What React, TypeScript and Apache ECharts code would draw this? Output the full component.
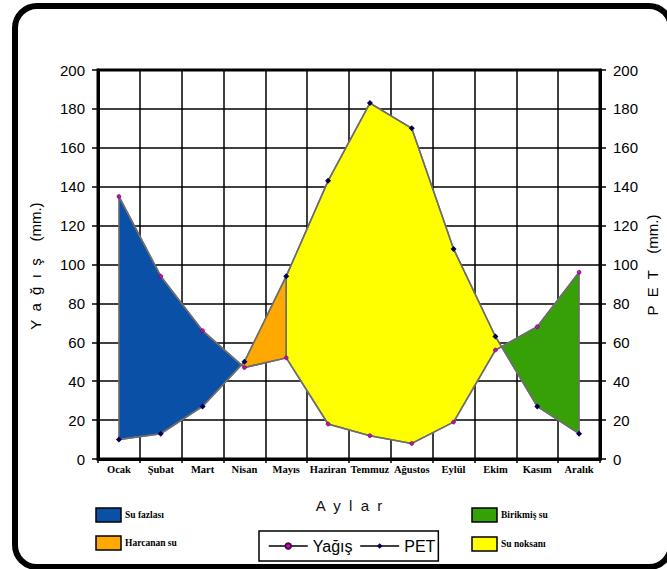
import React, { useEffect, useRef } from "react";
import * as echarts from "echarts";

const months = ["Ocak", "Şubat", "Mart", "Nisan", "Mayıs", "Haziran", "Temmuz", "Ağustos", "Eylül", "Ekim", "Kasım", "Aralık"];
const yagis = [135, 94, 66, 47, 52, 18, 12, 8, 19, 56, 68, 96];
const pet = [10, 13, 27, 50, 94, 143, 183, 170, 108, 63, 27, 13];
const yMin = 0;
const yMax = 200;
const yStep = 20;

const areaNames = ["Su fazlası", "Harcanan su", "Su noksanı", "Birikmiş su"];
const areaColors = ["#0a50a6", "#ffa800", "#ffff00", "#36a106"];
const lineNames = ["Yağış", "PET"];
const lineColors = ["#c010b0", "#000050"];

// month index where the soil-water use (Harcanan su) phase ends
const harcananEnd = 4;

function crossing(i: number): number[] {
  const d0 = yagis[i] - pet[i];
  const d1 = yagis[i + 1] - pet[i + 1];
  const t = d0 / (d0 - d1);
  return [i + t, yagis[i] + t * (yagis[i + 1] - yagis[i])];
}

function buildPolygons(): number[][][] {
  const signs = yagis.map((v, i) => v - pet[i]);
  let c1 = 0;
  let c2 = 0;
  for (let i = 0; i < signs.length - 1; i++) {
    if (signs[i] > 0 && signs[i + 1] < 0) c1 = i;
    if (signs[i] < 0 && signs[i + 1] > 0) c2 = i;
  }
  const x1 = crossing(c1);
  const x2 = crossing(c2);
  const blue: number[][] = [];
  for (let i = 0; i <= c1; i++) blue.push([i, yagis[i]]);
  blue.push(x1);
  for (let i = c1; i >= 0; i--) blue.push([i, pet[i]]);
  const orange: number[][] = [x1];
  for (let i = c1 + 1; i <= harcananEnd; i++) orange.push([i, pet[i]]);
  for (let i = harcananEnd; i > c1; i--) orange.push([i, yagis[i]]);
  const yellow: number[][] = [];
  for (let i = harcananEnd; i <= c2; i++) yellow.push([i, pet[i]]);
  yellow.push(x2);
  for (let i = c2; i >= harcananEnd; i--) yellow.push([i, yagis[i]]);
  const green: number[][] = [x2];
  for (let i = c2 + 1; i < months.length; i++) green.push([i, yagis[i]]);
  for (let i = months.length - 1; i > c2; i--) green.push([i, pet[i]]);
  return [blue, orange, yellow, green];
}

export default function App() {
  const ref = useRef<HTMLDivElement>(null);
  useEffect(() => {
    document.body.style.margin = "0";
    const chart = echarts.init(ref.current!, null, { renderer: "svg" });
    const polygons = buildPolygons();
    const sans = "Liberation Sans";
    const serif = "Liberation Serif";

    const legendBoxes: any[] = [];
    const boxPos = [
      [96, 508],
      [96, 536],
      [472, 537],
      [472, 508],
    ];
    areaNames.forEach((n, i) => {
      legendBoxes.push({
        type: "rect",
        shape: { x: boxPos[i][0], y: boxPos[i][1], width: 25, height: 14 },
        style: { fill: areaColors[i], stroke: "#000", lineWidth: 1.5 },
      });
      legendBoxes.push({
        type: "text",
        x: boxPos[i][0] + 29,
        y: boxPos[i][1] + 7,
        style: {
          text: n,
          fontFamily: serif,
          fontWeight: "bold",
          fontSize: 9.5,
          fill: "#000",
          verticalAlign: "middle",
        },
      });
    });

    chart.setOption({
      animation: false,
      backgroundColor: "#fff",
      grid: {
        left: 98,
        right: 67,
        top: 70,
        bottom: 110,
        show: true,
        borderColor: "#000",
        borderWidth: 3,
      },
      legend: {
        left: 259,
        top: 531,
        orient: "horizontal",
        borderColor: "#000",
        borderWidth: 1.5,
        padding: [7, 3, 7, 9],
        itemWidth: 39,
        itemHeight: 7,
        itemGap: 7,
        textStyle: { fontFamily: sans, fontSize: 16, color: "#000" },
        data: lineNames.map((n) => ({ name: n, lineStyle: { color: "#000", width: 1.5 } })),
      },
      xAxis: [
        {
          type: "category",
          data: months,
          boundaryGap: true,
          axisLine: { lineStyle: { color: "#000", width: 3 } },
          axisTick: { show: true, interval: 0, length: 4, lineStyle: { color: "#000", width: 1.5 } },
          axisLabel: {
            interval: 0,
            margin: 5,
            fontFamily: serif,
            fontWeight: "bold",
            fontSize: 10.5,
            color: "#000",
          },
          splitLine: { show: true, interval: 0, lineStyle: { color: "#000", width: 1.5 } },
          name: "A  y  l  a  r",
          nameLocation: "middle",
          nameGap: 39,
          nameTextStyle: { fontFamily: sans, fontSize: 15, color: "#111" },
        },
        {
          type: "value",
          min: -0.5,
          max: months.length - 0.5,
          show: false,
          splitLine: { show: false },
        },
      ],
      yAxis: [
        {
          type: "value",
          min: yMin,
          max: yMax,
          interval: yStep,
          position: "left",
          axisLine: { show: true, onZero: false, lineStyle: { color: "#000", width: 3 } },
          axisTick: { show: true, length: 6, lineStyle: { color: "#000", width: 1.5 } },
          axisLabel: { margin: 13, fontFamily: sans, fontSize: 15, color: "#000" },
          splitLine: { show: true, lineStyle: { color: "#000", width: 1.5 } },
        },
        {
          type: "value",
          min: yMin,
          max: yMax,
          interval: yStep,
          position: "right",
          axisLine: { show: true, onZero: false, lineStyle: { color: "#000", width: 3 } },
          axisTick: { show: true, length: 6, lineStyle: { color: "#000", width: 1.5 } },
          axisLabel: { margin: 13, fontFamily: sans, fontSize: 15, color: "#000" },
          splitLine: { show: false },
        },
      ],
      series: [
        {
          type: "custom",
          name: "areas",
          xAxisIndex: 1,
          yAxisIndex: 0,
          data: polygons.map((_, i) => [i, 0]),
          renderItem: (params: any, api: any) => {
            const pts = polygons[params.dataIndex].map((p) => api.coord(p));
            return {
              type: "polygon",
              shape: { points: pts },
              style: { fill: areaColors[params.dataIndex], stroke: "#6e6e6e", lineWidth: 1.5 },
            };
          },
          z: 3,
        },
        {
          type: "line",
          name: lineNames[0],
          data: yagis,
          symbol: "circle",
          symbolSize: 4,
          itemStyle: { color: lineColors[0], borderColor: "#500050", borderWidth: 0.5 },
          lineStyle: { color: "#6e6e6e", width: 1.5 },
          z: 4,
        },
        {
          type: "line",
          name: lineNames[1],
          data: pet,
          symbol: "diamond",
          symbolSize: 6,
          itemStyle: { color: lineColors[1] },
          lineStyle: { color: "#6e6e6e", width: 1.5 },
          z: 4,
        },
      ],
      graphic: [
        {
          type: "rect",
          shape: { x: 15, y: 6, width: 656, height: 561, r: 22 },
          style: { fill: "none", stroke: "#000", lineWidth: 6 },
          z: 100,
        },
        {
          type: "text",
          x: 35,
          y: 266,
          rotation: Math.PI / 2,
          style: {
            text: "Y  a  ğ  ı  ş    (mm.)",
            fontFamily: sans,
            fontSize: 15,
            fill: "#000",
            align: "center",
            verticalAlign: "middle",
          },
        },
        {
          type: "text",
          x: 652,
          y: 265,
          rotation: Math.PI / 2,
          style: {
            text: "P  E  T    (mm.)",
            fontFamily: sans,
            fontSize: 15,
            fill: "#000",
            align: "center",
            verticalAlign: "middle",
          },
        },
        ...legendBoxes,
      ],
    });
    return () => chart.dispose();
  }, []);
  return <div ref={ref} style={{ width: 667, height: 569 }} />;
}
